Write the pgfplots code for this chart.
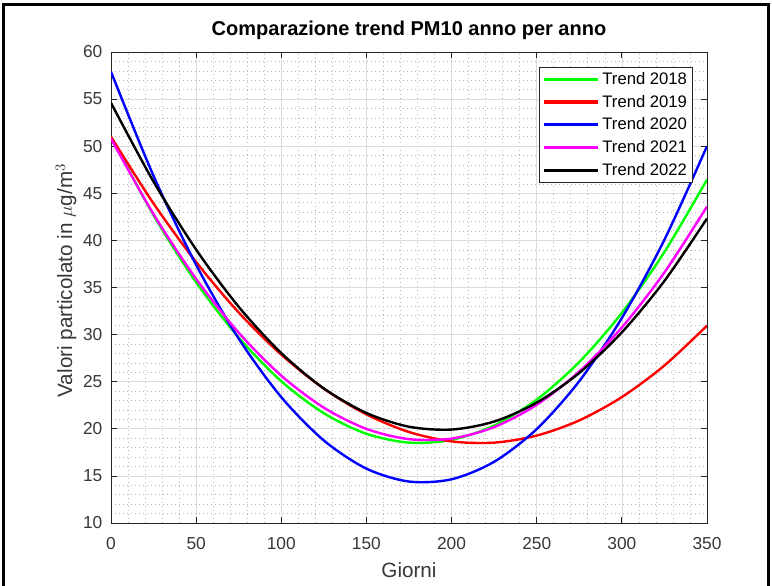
\documentclass[border=0pt]{standalone}
\usepackage{fontspec}
\setmainfont{Liberation Sans}
\usepackage{pgfplots}
\pgfplotsset{compat=1.18}
\definecolor{mgreen}{rgb}{0,1,0}
\definecolor{mred}{rgb}{1,0,0}
\definecolor{mblue}{rgb}{0,0,1}
\definecolor{mmag}{rgb}{1,0,1}
\begin{document}
\begin{tikzpicture}
\useasboundingbox (0,0) rectangle (579pt,439.5pt);
\fill[white] (0,0) rectangle (579pt,439.5pt);
\draw[line width=2.4pt] (2.4pt,0) -- (2.4pt,436pt) -- (576.6pt,436pt) -- (576.6pt,0);
\begin{axis}[
  at={(83.25pt,47.25pt)}, anchor=south west, scale only axis,
  width=447pt, height=353.25pt,
  xmin=0, xmax=350, ymin=10, ymax=60,
  xtick={0,50,...,350}, ytick={10,15,...,60},
  minor x tick num=4, minor y tick num=4,
  grid=both,
  major grid style={black!14, line width=0.5pt},
  minor grid style={black!28, line width=0.45pt, dash pattern=on 0.5pt off 2.5pt},
  tick align=inside, major tick length=4.5pt, minor tick length=0pt,
  axis line style={black!85, line width=0.6pt},
  tick style={black!85, line width=0.6pt},
  ticklabel style={font=\fontsize{13}{15}\selectfont, text=black!78},
  /pgf/number format/assume math mode=true,
  xticklabel style={yshift=-7pt},
  yticklabel style={xshift=-3pt},
  title={Comparazione trend PM10 anno per anno},
  title style={font=\bfseries\fontsize{15}{18}\selectfont, at={(axis description cs:0.5,1)}, anchor=base, yshift=6pt},
  xlabel={Giorni},
  xlabel style={font=\fontsize{15.5}{18}\selectfont, text=black!78, at={(axis description cs:0.5,0)}, anchor=base, yshift=-41pt},
  ylabel={Valori particolato in $\mu$g/m$^3$},
  ylabel style={font=\fontsize{15.5}{18}\selectfont, text=black!78, at={(axis description cs:-0.0654,0.515)}, anchor=base, rotate=0},
  legend cell align=left,
  legend style={at={(rel axis cs:0.976,0.968)}, anchor=north east, draw=black!85, line width=0.5pt, fill=white,
    font=\fontsize{12.5}{15}\selectfont, inner xsep=2pt, inner ysep=1.5pt, row sep=2.6pt},
  legend image code/.code={\draw[#1, line width=2.3pt] (0pt,0pt) -- (41pt,0pt);},
  every axis plot/.append style={line width=1.8pt, smooth, no markers},
]
% Trend 2018
\addplot[color=mgreen] coordinates {
(0,51.00) (25,42.66) (50,35.56) (75,29.69) (100,25.05) (125,21.65) (150,19.47) (175,18.53)
(200,18.82) (225,20.35) (250,23.10) (275,27.09) (300,32.31) (325,38.77) (350,46.45)};
\addlegendentry{Trend 2018}
% Trend 2019
\addplot[color=mred] coordinates {
(0,51.00) (25,43.91) (50,37.70) (75,32.35) (100,27.87) (125,24.26) (150,21.53) (175,19.66)
(200,18.66) (225,18.53) (250,19.28) (275,20.89) (300,23.37) (325,26.72) (350,30.95)};
\addlegendentry{Trend 2019}
% Trend 2020
\addplot[color=mblue] coordinates {
(0,57.90) (25,46.84) (50,37.40) (75,29.57) (100,23.36) (125,18.76) (150,15.77) (175,14.40)
(200,14.64) (225,16.50) (250,19.97) (275,25.06) (300,31.76) (325,40.07) (350,50.00)};
\addlegendentry{Trend 2020}
% Trend 2021
\addplot[color=mmag] coordinates {
(0,50.80) (25,42.78) (50,35.91) (75,30.20) (100,25.64) (125,22.24) (150,19.99) (175,18.90)
(200,18.96) (225,20.18) (250,22.55) (275,26.08) (300,30.76) (325,36.60) (350,43.59)};
\addlegendentry{Trend 2021}
% Trend 2022
\addplot[color=black] coordinates {
(0,54.60) (25,46.23) (50,39.02) (75,32.95) (100,28.04) (125,24.28) (150,21.68) (175,20.22)
(200,19.92) (225,20.77) (250,22.78) (275,25.93) (300,30.24) (325,35.70) (350,42.32)};
\addlegendentry{Trend 2022}
\end{axis}
\end{tikzpicture}
\end{document}
